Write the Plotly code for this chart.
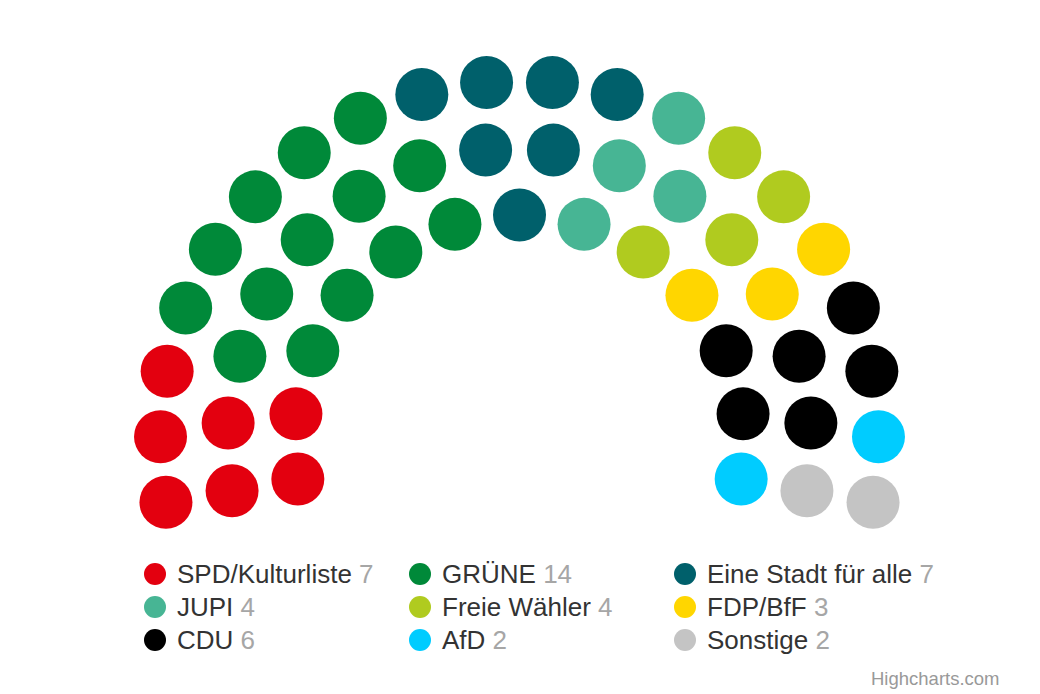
import math
import plotly.graph_objects as go

# parties, seats and colours
parties = ["SPD/Kulturliste", "GRÜNE", "Eine Stadt für alle", "JUPI", "Freie Wähler",
           "FDP/BfF", "CDU", "AfD", "Sonstige"]
seats = [7, 14, 7, 4, 4, 3, 6, 2, 2]
colors = ["#E3000F", "#008939", "#00606B", "#47B594", "#B0CB1F",
          "#FFD600", "#000000", "#00CCFF", "#C4C4C4"]

# parliament layout: seats per row (inner -> outer), ring radii, arc span
row_seats = [13, 16, 20]
row_radius = [0.627, 0.813, 1.0]
start_angle, end_angle = -100, 100

# page has an 8px body margin, so the figure is 8px smaller than the window
OFF = 8
W, H = 1040 - OFF, 694 - OFF
cx, cy, R = 519.5 - OFF, 440 - OFF, 359  # centre and outer radius in px

# build seat slots, then sort them by angle like Highcharts' item series
slots = []
for r, (n, rad) in enumerate(zip(row_seats, row_radius)):
    step = (end_angle - start_angle) / (n - 1)
    for j in range(n):
        ang = start_angle + j * step
        # tie break between rows sharing the same angle
        tie = r if ang > 60 else -r
        slots.append((round(ang, 6), tie, rad))
slots.sort(key=lambda s: (s[0], s[1]))

fig = go.Figure()
k = 0
for name, n, col in zip(parties, seats, colors):
    xs, ys = [], []
    for ang, _, rad in slots[k:k + n]:
        a = math.radians(ang)
        xs.append(rad * math.sin(a))
        ys.append(rad * math.cos(a))
    k += n
    fig.add_trace(go.Scatter(x=xs, y=ys, mode="markers", name=name,
                             marker=dict(size=53, color=col, line=dict(width=0)),
                             hovertemplate=name + ": " + str(n) + "<extra></extra>",
                             showlegend=False))

# legend, three columns
leg_x0, leg_dx = 155 - OFF, 265
leg_y0, leg_dy = 574 - OFF, 33
for i, (name, n, col) in enumerate(zip(parties, seats, colors)):
    px_ = leg_x0 + (i % 3) * leg_dx
    py_ = leg_y0 + (i // 3) * leg_dy
    fig.add_shape(type="circle", xref="paper", yref="paper",
                  x0=(px_ - 11) / W, x1=(px_ + 11) / W,
                  y0=1 - (py_ + 11) / H, y1=1 - (py_ - 11) / H,
                  fillcolor=col, line=dict(width=0))
    fig.add_annotation(xref="paper", yref="paper", x=(px_ + 20) / W, y=1 - py_ / H,
                       xanchor="left", yanchor="middle", showarrow=False,
                       text=name + " <span style='color:#a6a6a6'>" + str(n) + "</span>",
                       font=dict(size=26, color="#333333"))

fig.add_annotation(xref="paper", yref="paper", x=(1002 - OFF) / W, y=1 - (678 - OFF) / H,
                   xanchor="right", yanchor="middle", showarrow=False,
                   text="Highcharts.com", font=dict(size=18.5, color="#999999"))

fig.update_xaxes(range=[-cx / R, (W - cx) / R], visible=False, fixedrange=True)
fig.update_yaxes(range=[-(H - cy) / R, cy / R], visible=False, fixedrange=True)
fig.update_layout(width=W, height=H, margin=dict(l=0, r=0, t=0, b=0),
                  plot_bgcolor="white", paper_bgcolor="white",
                  font=dict(family="Liberation Sans, Arial, sans-serif"))

fig.write_html("out.html")
